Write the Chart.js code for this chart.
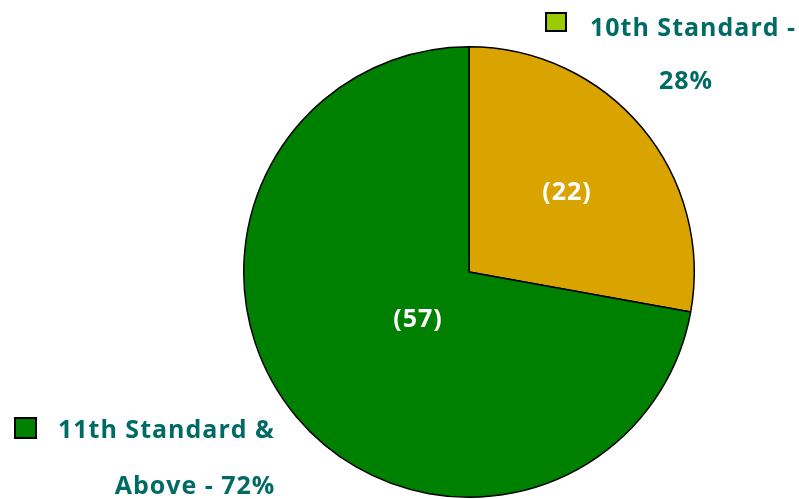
<!DOCTYPE html>
<html><head><meta charset="utf-8">
<script src="https://cdn.jsdelivr.net/npm/chart.js@4"></script>
<style>html,body{margin:0;padding:0;background:#fff;}#wrap{width:799px;height:499px;position:relative;}</style>
</head><body><div id="wrap"><canvas id="c" width="799" height="499"></canvas></div>
<script>
const categories = ["10th Standard", "11th Standard & Above"];
const counts = [22, 57];
const percents = ["28%", "72%"];
const legendLines = [["10th Standard -", "28%"], ["11th Standard &", "Above - 72%"]];
const sliceColors = ["#D9A300", "#008000"];
const legendBoxColors = ["#99CC00", "#008000"];

const FONT = "bold 25px 'Open Sans', Lato, sans-serif";
const TEXT = "#006B65";

const overlay = {
  id: "overlay",
  afterDatasetsDraw(chart) {
    const ctx = chart.ctx;
    ctx.save();
    ctx.font = FONT;
    ctx.letterSpacing = "1px";
    ctx.textAlign = "center";
    ctx.textBaseline = "middle";
    ctx.fillStyle = "#ffffff";
    const labelPos = [[567,193],[418,320]];
    counts.forEach((v, i) => {
      ctx.fillText("(" + v + ")", labelPos[i][0], labelPos[i][1]);
    });
    // legends
    const boxes = [[546,13,20,18],[15,418,21,20]];
    const lines = [[[590,29,"left"],[686,82,"center"]],[[58,431,"left"],[195,487,"center"]]];
    categories.forEach((c, i) => {
      const b = boxes[i];
      ctx.fillStyle = legendBoxColors[i];
      ctx.fillRect(b[0], b[1], b[2], b[3]);
      ctx.lineWidth = 2;
      ctx.strokeStyle = "#000";
      ctx.strokeRect(b[0], b[1], b[2], b[3]);
      ctx.fillStyle = TEXT;
      legendLines[i].forEach((t, j) => {
        const l = lines[i][j];
        ctx.textAlign = l[2];
        ctx.fillText(t, l[0], l[1]);
      });
    });
    ctx.restore();
  }
};

new Chart(document.getElementById("c"), {
  type: "pie",
  data: {
    labels: categories,
    datasets: [{
      data: counts,
      backgroundColor: sliceColors,
      borderColor: "#000000",
      borderWidth: 1.5,
      borderAlign: "center"
    }]
  },
  options: {
    responsive: false,
    animation: false,
    rotation: 0,
    layout: { padding: { left: 243, right: 104, top: 46, bottom: 1 } },
    plugins: { legend: { display: false }, tooltip: { enabled: false } }
  },
  plugins: [overlay]
});
</script>
</body></html>
